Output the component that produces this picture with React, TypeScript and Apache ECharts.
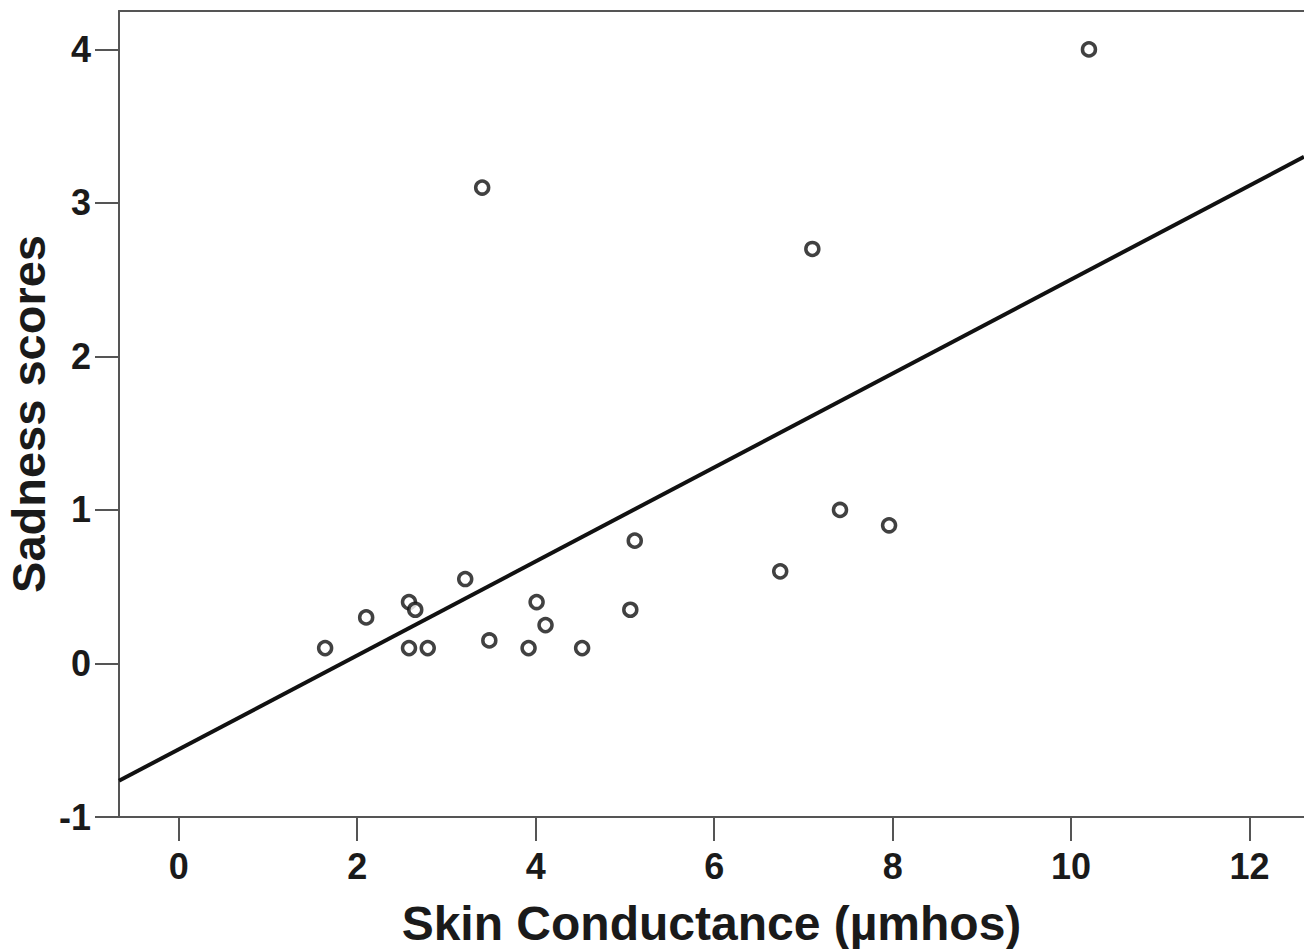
import React, { useEffect, useRef } from "react";
import * as echarts from "echarts";

// Scatter data (Skin Conductance vs Sadness scores)
const skinConductance = [
  1.64, 2.1, 2.58, 2.65, 2.58, 2.79, 3.21, 3.4, 3.48, 3.92,
  4.01, 4.11, 4.52, 5.06, 5.11, 6.74, 7.1, 7.41, 7.96, 10.2,
];
const sadnessScores = [
  0.1, 0.3, 0.4, 0.35, 0.1, 0.1, 0.55, 3.1, 0.15, 0.1,
  0.4, 0.25, 0.1, 0.35, 0.8, 0.6, 2.7, 1.0, 0.9, 4.0,
];
// Fitted line endpoints (at the axis extents)
const fitX = [-0.67, 12.61];
const fitY = [-0.764, 3.3];

const xTicks = [0, 2, 4, 6, 8, 10, 12];
const yTicks = [-1, 0, 1, 2, 3, 4];
const xRange = [-0.67, 12.61];
const yRange = [-1, 4.25];

const AXIS_COLOR = "#555555";
const FONT = "'Liberation Sans', Arial, sans-serif";

export default function App() {
  const ref = useRef<HTMLDivElement>(null);
  useEffect(() => {
    if (!ref.current) return;
    const chart = echarts.init(ref.current, undefined, { renderer: "svg" });
    const axisLine = { show: true, onZero: false, lineStyle: { color: AXIS_COLOR, width: 2 } };
    const axisTick = { show: true, length: 24, lineStyle: { color: AXIS_COLOR, width: 2 } };
    chart.setOption({
      animation: false,
      backgroundColor: "#ffffff",
      grid: {
        left: 119,
        top: 11,
        right: 0,
        bottom: 132,
        containLabel: false,
        outerBoundsMode: "none",
      },
      xAxis: [
        {
          type: "value",
          min: xRange[0],
          max: xRange[1],
          position: "bottom",
          axisLine,
          axisTick: { ...axisTick, customValues: xTicks },
          splitLine: { show: false },
          axisLabel: {
            customValues: xTicks,
            margin: 31,
            fontSize: 36,
            fontWeight: "bold",
            fontFamily: FONT,
            color: "#1a1a1a",
          },
          name: "Skin Conductance (µmhos)",
          nameLocation: "middle",
          nameGap: 82,
          nameMoveOverlap: false,
          nameTextStyle: { fontSize: 48, fontWeight: "bold", fontFamily: FONT, color: "#1a1a1a" },
        },
        {
          type: "value",
          min: xRange[0],
          max: xRange[1],
          position: "top",
          axisLine,
          axisTick: { show: false },
          axisLabel: { show: false },
          splitLine: { show: false },
        },
      ],
      yAxis: {
        type: "value",
        min: yRange[0],
        max: yRange[1],
        axisLine,
        axisTick: { ...axisTick, customValues: yTicks },
        splitLine: { show: false },
        axisLabel: {
          customValues: yTicks,
          margin: 28,
          fontSize: 36,
          fontWeight: "bold",
          fontFamily: FONT,
          color: "#1a1a1a",
        },
        name: "Sadness scores",
        nameLocation: "middle",
        nameGap: 67,
        nameMoveOverlap: false,
        nameRotate: 90,
        nameTextStyle: { fontSize: 47, fontWeight: "bold", fontFamily: FONT, color: "#1a1a1a" },
      },
      series: [
        {
          type: "line",
          data: fitX.map((x, i) => [x, fitY[i]]),
          showSymbol: false,
          symbol: "none",
          lineStyle: { color: "#111111", width: 4 },
          z: 2,
        },
        {
          type: "scatter",
          data: skinConductance.map((x, i) => [x, sadnessScores[i]]),
          symbol: "circle",
          symbolSize: 13,
          itemStyle: { color: "#ffffff", borderColor: "#111111", borderWidth: 3.5 },
          z: 3,
        },
      ],
    });
    return () => chart.dispose();
  }, []);
  return (
    <div
      ref={ref}
      style={{ position: "fixed", left: 0, top: 0, width: 1304, height: 949, background: "#fff" }}
    />
  );
}
